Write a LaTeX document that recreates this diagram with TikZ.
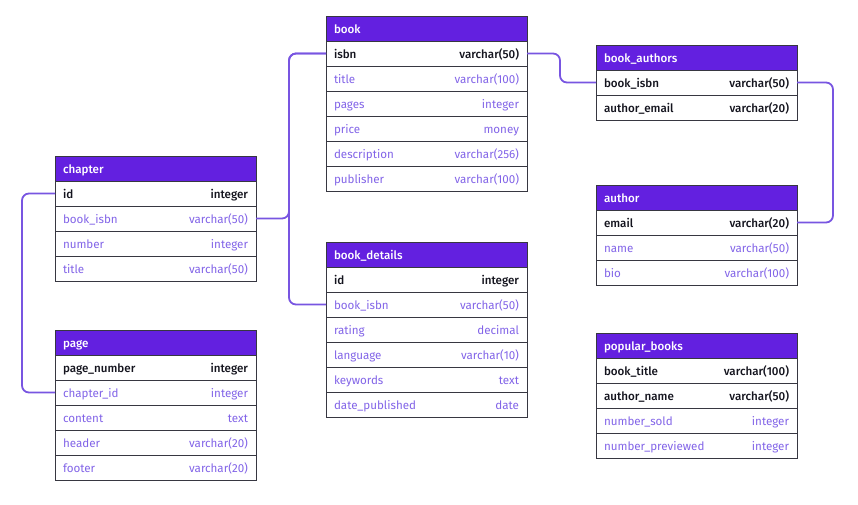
\documentclass[tikz,border=0pt]{standalone}
\usepackage{fontspec}
\setmainfont{Fira Sans}[BoldFont={Fira Sans Medium}]
\usetikzlibrary{positioning}
\definecolor{hdrc}{RGB}{99,32,224}
\definecolor{fldc}{RGB}{130,100,232}
\definecolor{keyc}{RGB}{20,20,30}
\definecolor{bordc}{RGB}{55,55,65}
\definecolor{connc}{RGB}{120,85,225}
\tikzset{
  cell/.style={draw=bordc, line width=0.9pt, minimum width=201pt, minimum height=25pt,
    text width=185pt, inner xsep=8pt, inner ysep=0pt, text height=10.5pt, text depth=1.5pt,
    outer sep=0pt, font=\fontsize{11.6}{13}\selectfont},
  hdr/.style={cell, fill=hdrc, text=white, font=\fontsize{11.6}{13}\selectfont\bfseries, anchor=north west},
  keyrow/.style={cell, fill=white, text=keyc, font=\fontsize{11.6}{13}\selectfont\bfseries, below=0pt of #1},
  fldrow/.style={cell, fill=white, text=fldc, below=0pt of #1},
  conn/.style={draw=connc, line width=1.8pt, rounded corners=7pt}
}
\begin{document}
\begin{tikzpicture}[x=1pt,y=-1pt]
\useasboundingbox (0,0) rectangle (858,504);
% book
\node[hdr] (book) at (326,16) {book};
\node[keyrow=book] (book-isbn) {isbn\hfill varchar(50)};
\node[fldrow=book-isbn] (book-title) {title\hfill varchar(100)};
\node[fldrow=book-title] (book-pages) {pages\hfill integer};
\node[fldrow=book-pages] (book-price) {price\hfill money};
\node[fldrow=book-price] (book-desc) {description\hfill varchar(256)};
\node[fldrow=book-desc] (book-pub) {publisher\hfill varchar(100)};
% book_authors
\node[hdr] (ba) at (596,45) {book\_authors};
\node[keyrow=ba] (ba-isbn) {book\_isbn\hfill varchar(50)};
\node[keyrow=ba-isbn] (ba-email) {author\_email\hfill varchar(20)};
% chapter
\node[hdr] (chapter) at (55,156) {chapter};
\node[keyrow=chapter] (chapter-id) {id\hfill integer};
\node[fldrow=chapter-id] (chapter-isbn) {book\_isbn\hfill varchar(50)};
\node[fldrow=chapter-isbn] (chapter-num) {number\hfill integer};
\node[fldrow=chapter-num] (chapter-title) {title\hfill varchar(50)};
% author
\node[hdr] (author) at (596,185) {author};
\node[keyrow=author] (author-email) {email\hfill varchar(20)};
\node[fldrow=author-email] (author-name) {name\hfill varchar(50)};
\node[fldrow=author-name] (author-bio) {bio\hfill varchar(100)};
% book_details
\node[hdr] (bd) at (326,242) {book\_details};
\node[keyrow=bd] (bd-id) {id\hfill integer};
\node[fldrow=bd-id] (bd-isbn) {book\_isbn\hfill varchar(50)};
\node[fldrow=bd-isbn] (bd-rating) {rating\hfill decimal};
\node[fldrow=bd-rating] (bd-lang) {language\hfill varchar(10)};
\node[fldrow=bd-lang] (bd-kw) {keywords\hfill text};
\node[fldrow=bd-kw] (bd-date) {date\_published\hfill date};
% page
\node[hdr] (page) at (55,330) {page};
\node[keyrow=page] (page-num) {page\_number\hfill integer};
\node[fldrow=page-num] (page-chid) {chapter\_id\hfill integer};
\node[fldrow=page-chid] (page-content) {content\hfill text};
\node[fldrow=page-content] (page-header) {header\hfill varchar(20)};
\node[fldrow=page-header] (page-footer) {footer\hfill varchar(20)};
% popular_books
\node[hdr] (pb) at (596,333) {popular\_books};
\node[keyrow=pb] (pb-title) {book\_title\hfill varchar(100)};
\node[keyrow=pb-title] (pb-author) {author\_name\hfill varchar(50)};
\node[fldrow=pb-author] (pb-sold) {number\_sold\hfill integer};
\node[fldrow=pb-sold] (pb-prev) {number\_previewed\hfill integer};
% connectors
\draw[conn] (book-isbn.east) -- ++(33,0) |- (ba-isbn.west);
\draw[conn] (ba-isbn.east) -- ++(36,0) |- (author-email.east);
\draw[conn] (chapter-isbn.east) -- ++(33,0) |- (book-isbn.west);
\draw[conn] (book-isbn.west) -- ++(-37,0) |- (bd-isbn.west);
\draw[conn] (chapter-id.west) -- ++(-33,0) |- (page-chid.west);
\end{tikzpicture}
\end{document}
